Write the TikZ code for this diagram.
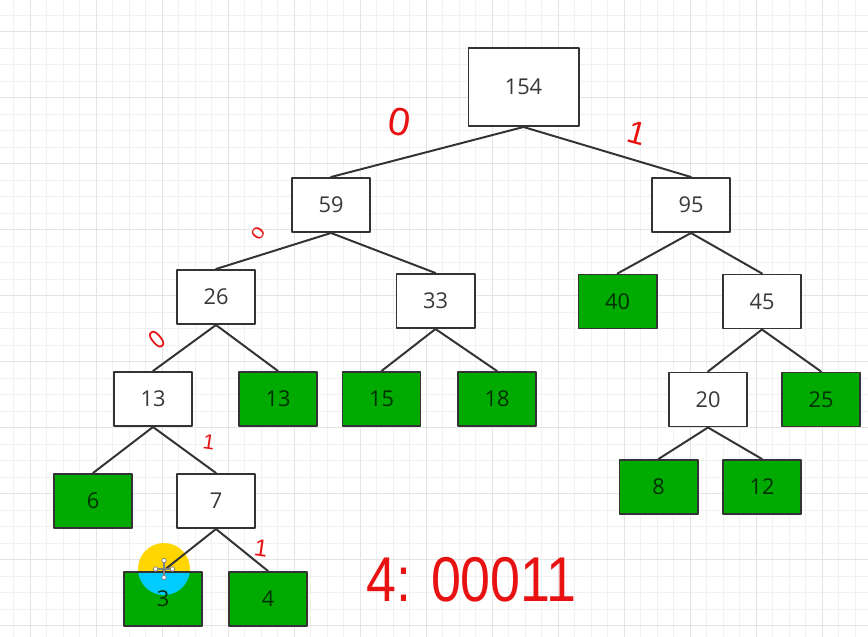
\documentclass[tikz,border=0pt]{standalone}
\usepackage{fontspec}
\setmainfont{Open Sans}
\newfontfamily\handfont{Liberation Sans}
\definecolor{leafgreen}{RGB}{0,170,0}
\definecolor{gridminor}{RGB}{241,241,241}
\definecolor{gridmajor}{RGB}{228,228,228}
\definecolor{linegray}{RGB}{51,51,51}
\definecolor{penred}{RGB}{232,18,18}
\definecolor{cursoryellow}{RGB}{255,214,0}
\definecolor{cursorcyan}{RGB}{0,204,255}
\tikzset{
  sumbox/.style={draw=linegray, line width=1.4pt, fill=white, minimum width=1.95cm, minimum height=1.35cm, text=black!78, font=\fontsize{15.5}{15.5}\selectfont},
  leafbox/.style={sumbox, fill=leafgreen, text=black!72!leafgreen},
  link/.style={draw=linegray, line width=1.4pt},
  bit/.style={text=penred, inner sep=0pt, font=\handfont\fontsize{#1}{#1}\selectfont},
}
\begin{document}
\begin{tikzpicture}[x=0.025cm, y=-0.025cm, line join=round, line cap=round]
  \useasboundingbox[fill=white] (0,0) rectangle (868,637);
  % grid of the canvas
  \foreach \gx in {0,...,52}
    \draw[gridminor, line width=0.6pt] ({13.5+16.5*\gx},0) -- ({13.5+16.5*\gx},637);
  \foreach \gy in {0,...,38}
    \draw[gridminor, line width=0.6pt] (0,{15+16.5*\gy}) -- (868,{15+16.5*\gy});
  \foreach \gx in {0,...,12}
    \draw[gridmajor, line width=0.7pt] ({30+66*\gx},0) -- ({30+66*\gx},637);
  \foreach \gy in {0,...,9}
    \draw[gridmajor, line width=0.7pt] (0,{31.5+66*\gy}) -- (868,{31.5+66*\gy});
  % cursor highlight
  \coordinate (cursor) at (164,569);
  \fill[cursoryellow] (cursor) circle[radius=0.65cm];
  % tree
  \node[sumbox, minimum width=2.75cm, minimum height=1.95cm] (n154) at (523.5,87) {154};
  \node[sumbox] (n59) at (331,205) {59};
  \node[sumbox] (n95) at (691,205) {95};
  \node[sumbox] (n26) at (216,297) {26};
  \node[sumbox] (n33) at (435.5,301) {33};
  \node[leafbox] (n40) at (617.5,301.5) {40};
  \node[sumbox] (n45) at (762,301.5) {45};
  \node[sumbox] (n13a) at (153,399) {13};
  \node[leafbox] (n13b) at (278,399) {13};
  \node[leafbox] (n15) at (381.5,399) {15};
  \node[leafbox] (n18) at (497,399) {18};
  \node[sumbox] (n20) at (708,399.5) {20};
  \node[leafbox] (n25) at (821,399.5) {25};
  \node[leafbox] (n6) at (93,501) {6};
  \node[sumbox] (n7) at (216,501) {7};
  \node[leafbox] (n8) at (658.5,487) {8};
  \node[leafbox] (n12) at (762,487) {12};
  \node[leafbox, path picture={\fill[cursorcyan] (cursor) circle[radius=0.65cm];}] (n3) at (163,599) {3};
  \node[leafbox] (n4) at (268,599) {4};
  \draw[link] (n154.south) -- (n59.north);
  \draw[link] (n154.south) -- (n95.north);
  \draw[link] (n59.south) -- (n26.north);
  \draw[link] (n59.south) -- (n33.north);
  \draw[link] (n95.south) -- (n40.north);
  \draw[link] (n95.south) -- (n45.north);
  \draw[link] (n26.south) -- (n13a.north);
  \draw[link] (n26.south) -- (n13b.north);
  \draw[link] (n33.south) -- (n15.north);
  \draw[link] (n33.south) -- (n18.north);
  \draw[link] (n45.south) -- (n20.north);
  \draw[link] (n45.south) -- (n25.north);
  \draw[link] (n13a.south) -- (n6.north);
  \draw[link] (n13a.south) -- (n7.north);
  \draw[link] (n20.south) -- (n8.north);
  \draw[link] (n20.south) -- (n12.north);
  \draw[link] (n7.south) -- (n3.north);
  \draw[link] (n7.south) -- (n4.north);
  % move icon of the cursor
  \draw[gray, line width=0.8pt] ([xshift=-6pt]cursor) -- ([xshift=6pt]cursor);
  \draw[gray, line width=0.8pt] ([yshift=-6pt]cursor) -- ([yshift=6pt]cursor);
  \foreach \cx/\cy in {-6/0, 6/0, 0/-6, 0/6}
    \draw[gray, fill=white, line width=0.5pt] ([xshift=\cx pt, yshift=\cy pt]cursor) circle (1.6pt);
  % handwritten code bits
  \node[bit=28, rotate=-10] (b154) at (400,122) {0};
  \node[bit=23, rotate=-15] (b95) at (637,133) {1};
  \node[bit=15, rotate=55, yscale=0.8] (b59) at (258,233) {0};
  \node[bit=19, rotate=40, xscale=0.8] (b26) at (157,340) {0};
  \node[bit=15, rotate=-8] (b13) at (209,442) {1};
  \node[bit=17, rotate=-8] (b7) at (261,548) {1};
  \node[bit=45, anchor=west, xscale=0.85] (code) at (366,580) {4: 00011};
\end{tikzpicture}
\end{document}
